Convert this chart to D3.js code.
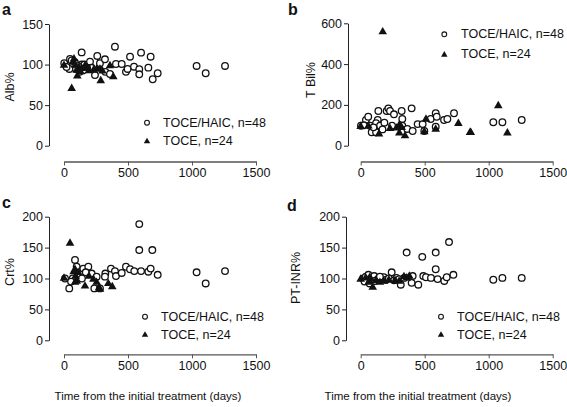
<!DOCTYPE html>
<html><head><meta charset="utf-8">
<script src="https://cdn.jsdelivr.net/npm/d3@7/dist/d3.min.js"></script>
<style>
body{margin:0;background:#fff;}
text{font-family:"Liberation Sans",Arial,Helvetica,sans-serif;fill:#111;}
</style></head>
<body><svg id="c" width="567" height="407"></svg>
<script>
const xTicks = [0, 500, 1000, 1500];
const legendLabels = ["TOCE/HAIC, n=48", "TOCE, n=24"];
const xTitle = "Time from the initial treatment (days)";

// Panel a: Alb%
const albHaic = [[2,101.6],[47,107],[138,115],[68,100],[42,94.6],[94,94.6],[138,100],[122,91],[159,100],[203,103.6],[216,96],[242,87],[260,110.6],[281,101.6],[320,106.5],[323,91],[359,88.4],[398,122],[406,100.7],[451,100.7],[484,91],[497,94.6],[516,109.7],[547,97.4],[588,94.2],[588,88],[602,114.7],[659,96.2],[677,109.7],[693,81.9],[732,89.3],[1036,98.3],[1107,89.3],[1258,98.3],[20,97],[85,103],[110,98],[180,96],[60,105],[150,93]];
const albToce = [[0,100],[60,71.5],[78,107.8],[104,87],[99,94],[117,97.4],[164,99.5],[182,97.4],[198,93.3],[255,95.4],[287,81],[281,95.4],[359,99.5],[385,86],[70,104],[90,100],[140,96],[230,94],[300,93],[130,92]];
// Panel b: T Bil%
const tbilHaic = [[2,98],[41,126],[59,142],[73,98],[86,66],[120,66],[138,170],[133,126],[120,110],[151,98],[185,113],[203,170],[216,183],[229,170],[245,98],[260,154],[320,170],[325,131],[325,98],[364,82],[398,183],[406,72],[445,106],[484,106],[497,72],[547,131],[586,159],[594,142],[586,93],[651,126],[677,131],[729,159],[1036,115],[1107,115],[1258,126],[25,100],[100,90],[170,80]];
const tbilToce = [[0,98],[172,562],[143,61],[229,88],[302,105],[302,66],[346,52],[497,72],[510,134],[586,85],[763,113],[854,69],[860,69],[1075,200],[1146,66],[320,93],[280,90],[60,100]];
// Panel c: Crt%
const crtHaic = [[41,84],[86,130],[68,100],[99,119],[125,107],[151,116],[190,119],[216,108],[237,84],[255,103],[281,84],[323,108],[320,103],[367,116],[398,112],[406,104],[451,109],[484,119],[516,115],[549,112],[588,188],[588,146],[602,112],[659,111],[677,116],[690,146],[732,106],[1036,110],[1107,92],[1258,112],[8,100],[55,95],[170,110],[140,100]];
const crtToce = [[0,101.7],[47,158.5],[86,116],[99,97],[111,111],[86,95],[164,89],[195,105],[255,95],[273,86],[281,84],[346,93],[377,88],[75,112],[90,105],[230,100]];
// Panel d: PT-INR%
const inrHaic = [[359,142],[481,135],[586,142],[690,159],[586,115],[242,110],[406,104],[398,93],[450,90],[313,90],[489,104],[510,102],[549,101],[601,99],[653,96],[672,102],[724,106],[1036,98],[1107,101],[1258,101],[20,100],[40,103],[60,106],[75,98],[90,101],[105,104],[120,97],[140,100],[160,99],[180,102],[200,98],[220,100],[260,97],[280,101],[300,99],[340,101],[30,95],[70,92],[110,96],[150,103]];
const inrToce = [[0,100],[94,87],[62,95],[268,98],[338,104],[380,105],[180,97],[40,102],[80,100],[120,98],[150,95],[220,99],[300,97],[360,102],[70,103]];

const panels = [
  {letter:"a", title:"Alb%", yTicks:[0,50,100,150], yMax:150, haic:albHaic, toce:albToce,
   yAxisX:49, xL:64, xR:256, y0:145.7, y1:24, xAxisY:161.5, titleX:10, titleY:87,
   letterX:2, letterY:15, legX:147, legTX:163, legY1:122.7, legY2:141, showXTitle:false},
  {letter:"b", title:"T Bil%", yTicks:[0,200,400,600], yMax:600, haic:tbilHaic, toce:tbilToce,
   yAxisX:348, xL:360.7, xR:552.7, y0:145.7, y1:23.3, xAxisY:161.5, titleX:311, titleY:80,
   letterX:288, letterY:15, legX:444.3, legTX:461, legY1:34.3, legY2:54.3, showXTitle:false},
  {letter:"c", title:"Crt%", yTicks:[0,50,100,150,200], yMax:200, haic:crtHaic, toce:crtToce,
   yAxisX:49, xL:64, xR:256, y0:340.3, y1:216.7, xAxisY:354.3, titleX:10, titleY:272,
   letterX:2, letterY:208, legX:145, legTX:161, legY1:316.7, legY2:334.5, showXTitle:true, xTitleX:148},
  {letter:"d", title:"PT-INR%", yTicks:[0,50,100,150,200], yMax:200, haic:inrHaic, toce:inrToce,
   yAxisX:346, xL:360.7, xR:552.7, y0:340.3, y1:216.7, xAxisY:354.3, titleX:296, titleY:278,
   letterX:287, letterY:211, legX:441, legTX:457, legY1:316.7, legY2:334.5, showXTitle:true, xTitleX:418}
];

const svg = d3.select("#c");
const tri = d3.symbol().type(d3.symbolTriangle).size(32);
const triLeg = d3.symbol().type(d3.symbolTriangle).size(18);
const fmt = d3.format("d");

panels.forEach(p => {
  const g = svg.append("g");
  const x = d3.scaleLinear().domain([0,1500]).range([p.xL, p.xR]);
  const y = d3.scaleLinear().domain([0,p.yMax]).range([p.y0, p.y1]);

  const ya = g.append("g").attr("transform",`translate(${p.yAxisX},0)`)
    .call(d3.axisLeft(y).tickValues(p.yTicks).tickFormat(fmt).tickSize(4).tickPadding(2).tickSizeOuter(0));
  ya.select(".domain").attr("stroke","#222");
  ya.selectAll(".tick line").attr("stroke","#222");
  ya.selectAll("text").attr("font-size","12.5px").style("font-family","'Liberation Sans',Arial,sans-serif").attr("fill","#111");

  const xa = g.append("g").attr("transform",`translate(0,${p.xAxisY})`)
    .call(d3.axisBottom(x).tickValues(xTicks).tickFormat(fmt).tickSize(4).tickPadding(3).tickSizeOuter(0));
  xa.select(".domain").attr("stroke","#555").attr("stroke-width",1.3);
  xa.selectAll(".tick line").attr("stroke","#555");
  xa.selectAll("text").attr("font-size","12.5px").style("font-family","'Liberation Sans',Arial,sans-serif").attr("fill","#111");

  g.append("text").attr("transform",`translate(${p.titleX},${p.titleY}) rotate(-90)`)
    .attr("text-anchor","middle").attr("dominant-baseline","central").attr("font-size","12.5px").text(p.title);
  g.append("text").attr("x",p.letterX).attr("y",p.letterY).attr("font-size","16px").attr("font-weight","bold").text(p.letter);
  if (p.showXTitle) {
    g.append("text").attr("x",p.xTitleX).attr("y",400).attr("text-anchor","middle").attr("font-size","11.5px").text(xTitle);
  }

  g.append("g").selectAll("circle").data(p.haic).join("circle")
    .attr("cx",d=>x(d[0])).attr("cy",d=>y(d[1])).attr("r",3.3)
    .attr("fill","#fff").attr("stroke","#111").attr("stroke-width",1.3);
  g.append("g").selectAll("path").data(p.toce).join("path")
    .attr("d",tri).attr("transform",d=>`translate(${x(d[0])},${y(d[1])+0.8})`).attr("fill","#111");

  g.append("circle").attr("cx",p.legX).attr("cy",p.legY1).attr("r",2.4).attr("fill","#fff").attr("stroke","#111").attr("stroke-width",1.1);
  g.append("path").attr("d",triLeg).attr("transform",`translate(${p.legX},${p.legY2+0.5})`).attr("fill","#111");
  g.append("text").attr("x",p.legTX).attr("y",p.legY1).attr("dominant-baseline","central").attr("font-size","12.5px").text(legendLabels[0]);
  g.append("text").attr("x",p.legTX).attr("y",p.legY2).attr("dominant-baseline","central").attr("font-size","12.5px").text(legendLabels[1]);
});
</script></body></html>
